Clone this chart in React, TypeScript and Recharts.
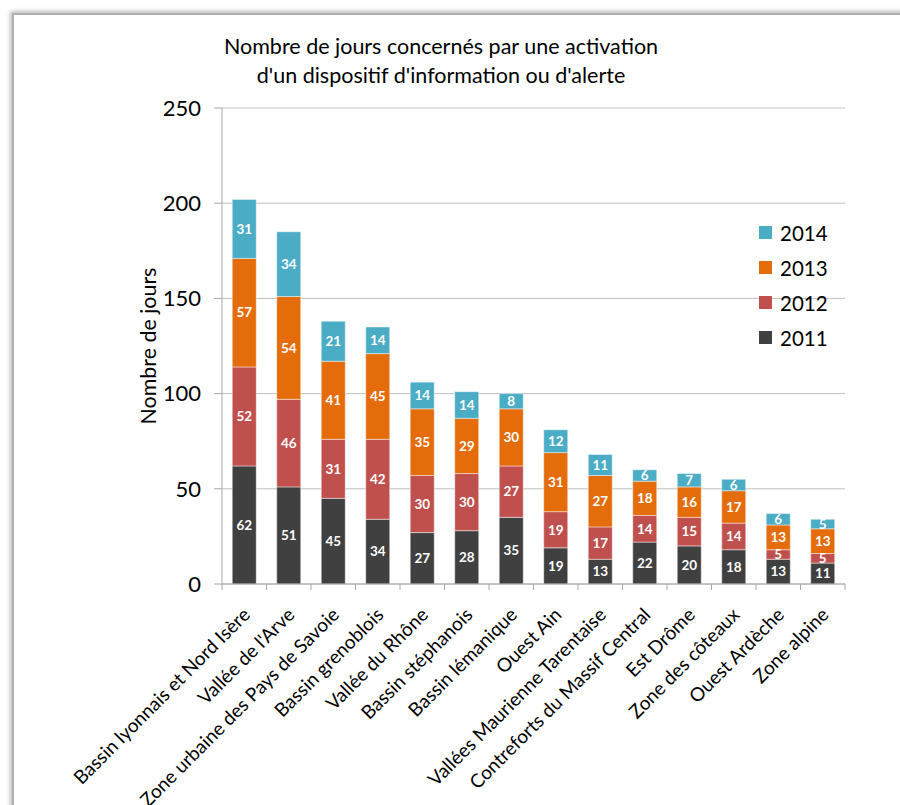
import { BarChart, Bar, XAxis, YAxis, CartesianGrid, LabelList } from 'recharts';

const categories = [
  'Bassin lyonnais et Nord Isère',
  "Vallée de l'Arve",
  'Zone urbaine des Pays de Savoie',
  'Bassin grenoblois',
  'Vallée du Rhône',
  'Bassin stéphanois',
  'Bassin lémanique',
  'Ouest Ain',
  'Vallées Maurienne Tarentaise',
  'Contreforts du Massif Central',
  'Est Drôme',
  'Zone des côteaux',
  'Ouest Ardèche',
  'Zone alpine',
];

const values2011 = [62, 51, 45, 34, 27, 28, 35, 19, 13, 22, 20, 18, 13, 11];
const values2012 = [52, 46, 31, 42, 30, 30, 27, 19, 17, 14, 15, 14, 5, 5];
const values2013 = [57, 54, 41, 45, 35, 29, 30, 31, 27, 18, 16, 17, 13, 13];
const values2014 = [31, 34, 21, 14, 14, 14, 8, 12, 11, 6, 7, 6, 6, 5];

const yTicks = [0, 50, 100, 150, 200, 250];

const FONT = 'Lato, "Open Sans", sans-serif';

const SERIES = [
  { key: 'y2011', name: '2011', color: '#404040' },
  { key: 'y2012', name: '2012', color: '#c0504d' },
  { key: 'y2013', name: '2013', color: '#e46c0a' },
  { key: 'y2014', name: '2014', color: '#4bacc6' },
];

const data = categories.map((name, i) => ({
  name,
  y2011: values2011[i],
  y2012: values2012[i],
  y2013: values2013[i],
  y2014: values2014[i],
}));

const PLOT_LEFT = 222;
const PLOT_RIGHT = 845;
const BAND = (PLOT_RIGHT - PLOT_LEFT) / categories.length;

// eslint-disable-next-line @typescript-eslint/no-explicit-any
const CategoryTick = ({ x, y, payload, index }: any) => {
  const isLast = index === categories.length - 1;
  return (
    <g>
      <line x1={x - BAND / 2} x2={x - BAND / 2} y1={y - 8} y2={y - 2} stroke="#a6a6a6" />
      {isLast && (
        <line x1={x + BAND / 2} x2={x + BAND / 2} y1={y - 8} y2={y - 2} stroke="#a6a6a6" />
      )}
      <text
        transform={`translate(${x + 7},${y + 24}) rotate(-45)`}
        textAnchor="end"
        fontSize={19}
        fontFamily={FONT}
        fill="#000"
      >
        {payload.value}
      </text>
    </g>
  );
};

export default function App() {
  return (
    <div style={{ position: 'absolute', left: 0, top: 0, width: 900, height: 805, overflow: 'hidden', background: '#fff' }}>
      <div
        style={{
          position: 'absolute',
          left: 12,
          top: 13,
          width: 920,
          height: 820,
          borderLeft: '2px solid #b0b0b0',
          borderTop: '2px solid #b0b0b0',
          boxShadow: '-2px -2px 4px rgba(0,0,0,0.25)',
        }}
      />
      <div
        style={{
          position: 'absolute',
          left: 0,
          top: 32,
          width: 882,
          textAlign: 'center',
          fontFamily: FONT,
          fontSize: 21.5,
          lineHeight: '29px',
          color: '#000',
        }}
      >
        Nombre de jours concernés par une activation
        <br />
        d'un dispositif d'information ou d'alerte
      </div>
      <div
        style={{
          position: 'absolute',
          left: 148,
          top: 346,
          transform: 'translate(-50%, -50%) rotate(-90deg)',
          fontFamily: FONT,
          fontSize: 21.4,
          whiteSpace: 'nowrap',
          color: '#000',
        }}
      >
        Nombre de jours
      </div>
      <div
        style={{ position: 'absolute', left: 759, top: 215, fontFamily: FONT, fontSize: 20.5, color: '#000', zIndex: 2 }}
      >
        {[...SERIES].reverse().map((s) => (
          <div key={s.key} style={{ display: 'flex', alignItems: 'center', height: 35 }}>
            <span
              style={{ width: 13, height: 13, background: s.color, display: 'inline-block', marginRight: 8 }}
            />
            {s.name}
          </div>
        ))}
      </div>
      <BarChart
        width={900}
        height={805}
        data={data}
        margin={{ top: 108, right: 900 - PLOT_RIGHT, left: PLOT_LEFT - 60, bottom: 0 }}
        barCategoryGap="23%"
        style={{ position: 'absolute', left: 0, top: 0 }}
      >
        <CartesianGrid vertical={false} stroke="#bfbfbf" />
        <XAxis
          dataKey="name"
          height={221}
          interval={0}
          tickLine={false}
          axisLine={{ stroke: '#a6a6a6' }}
          tick={<CategoryTick />}
        />
        <YAxis
          width={60}
          domain={[0, 250]}
          ticks={yTicks}
          tickSize={8}
          tickLine={{ stroke: '#a6a6a6' }}
          axisLine={{ stroke: '#a6a6a6' }}
          tick={{ fontSize: 22, fontFamily: FONT, fill: '#000' }}
          tickMargin={13}
        />
        {SERIES.map((s) => (
          <Bar
            key={s.key}
            dataKey={s.key}
            name={s.name}
            stackId="a"
            fill={s.color}
            stroke="rgba(255,255,255,0.45)"
            strokeWidth={1}
            isAnimationActive={false}
          >
            <LabelList
              dataKey={s.key}
              position="center"
              fill="#fff"
              fontSize={13.5}
              fontWeight="bold"
              fontFamily={FONT}
            />
          </Bar>
        ))}
      </BarChart>
    </div>
  );
}
